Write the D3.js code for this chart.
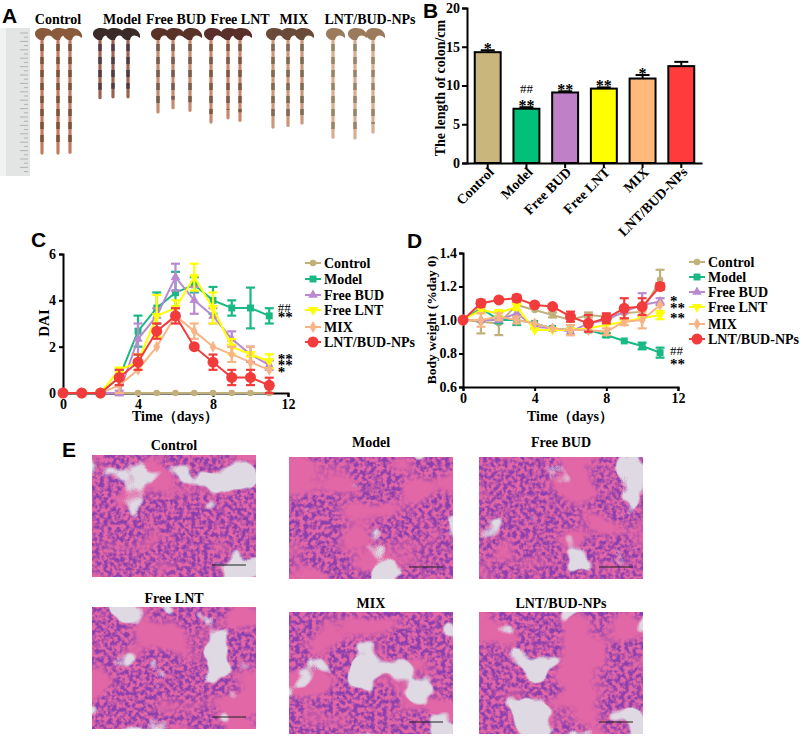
<!DOCTYPE html>
<html>
<head>
<meta charset="utf-8">
<script src="https://cdn.jsdelivr.net/npm/d3@7"></script>
<style>
  body { margin: 0; background: #fff; }
</style>
</head>
<body>
<div id="container"></div>
<script>

// ---- data ----
let groups = ["Control", "Model", "Free BUD", "Free LNT", "MIX", "LNT/BUD-NPs"];
let barColors = ["#c9b67c", "#00c07a", "#c080c8", "#ffff00", "#ffb97a", "#ff3b3b"];
let lineColors = ["#c2b07c", "#19b884", "#b98ad0", "#ffff00", "#f8b485", "#f23c3c"];

// B: colon length (cm)
let colonLength = [14.3, 7.0, 9.1, 9.6, 10.9, 12.5];
let colonSem = [0.25, 0.2, 0.15, 0.15, 0.45, 0.55];
let colonMarks = [["*"], ["**", "##"], ["**"], ["**"], ["*"], []];

// A: length of each colon in the photo (cm)
let photoLength = [[14.3, 14.3, 14.2], [7.7, 7.6, 7.6], [9.4, 8.9, 9.2],
                   [10.6, 10.1, 10.4], [11.2, 11.0, 10.7], [12.4, 12.5, 11.8]];

let days = [0, 1, 2, 3, 4, 5, 6, 7, 8, 9, 10, 11];

// C: DAI
let daiControl = [0, 0, 0, 0, 0, 0, 0, 0, 0, 0, 0, 0];
let daiModel   = [0, 0, 0, 0.67, 2.67, 3.67, 4.33, 4.67, 4.0, 3.67, 3.67, 3.33];
let daiBUD     = [0, 0, 0, 0, 2.33, 3.33, 5.0, 4.0, 3.33, 2.33, 1.67, 1.2];
let daiLNT     = [0, 0, 0, 1.0, 1.33, 3.33, 3.67, 5.0, 3.67, 2.0, 1.67, 1.37];
let daiMIX     = [0, 0, 0, 0.33, 1.0, 2.0, 3.33, 2.67, 2.0, 1.67, 1.33, 1.0];
let daiNPs     = [0, 0, 0, 0.67, 1.33, 2.67, 3.33, 2.0, 1.33, 0.67, 0.67, 0.33];

let daiSemControl = [0, 0, 0, 0, 0, 0, 0, 0, 0, 0, 0, 0];
let daiSemModel   = [0, 0, 0, 0.33, 0.67, 0.67, 0.9, 0.33, 0.58, 0.33, 0.88, 0.33];
let daiSemBUD     = [0, 0, 0, 0.1, 0.67, 0.33, 0.58, 0.58, 0.33, 0.33, 0.33, 0.2];
let daiSemLNT     = [0, 0, 0, 0.1, 0.33, 0.9, 0.33, 0.58, 0.67, 0.33, 0.1, 0.3];
let daiSemMIX     = [0, 0, 0, 0.33, 0, 0, 0, 0.33, 0, 0.33, 0.67, 0];
let daiSemNPs     = [0, 0, 0, 0.33, 0.33, 0.33, 0.33, 0, 0.33, 0.33, 0.33, 0.33];

// C: significance marks at day 11, [mark, DAI level of its baseline]
let daiMarksModel = [["##", 3.5], ["**", 3.06]];
let daiMarksTreat = [["**", 1.26], ["**", 0.98], ["*", 0.7]];

// D: body weight (fraction of day 0)
let bwControl = [1.0, 0.99, 0.98, 1.09, 1.06, 1.03, 1.0, 1.03, 1.02, 1.04, 1.05, 1.24];
let bwModel   = [1.0, 1.07, 1.0, 1.0, 0.98, 0.95, 0.94, 0.94, 0.91, 0.875, 0.845, 0.805];
let bwBUD     = [1.0, 1.0, 1.0, 1.04, 0.96, 0.95, 0.93, 0.98, 1.0, 1.05, 1.09, 1.11];
let bwLNT     = [1.0, 1.06, 1.04, 1.08, 0.94, 0.94, 0.94, 0.95, 0.97, 0.99, 1.01, 1.03];
let bwMIX     = [1.0, 1.0, 1.02, 1.0, 0.98, 0.95, 0.94, 0.94, 0.93, 0.99, 1.0, 1.09];
let bwNPs     = [1.0, 1.10, 1.12, 1.13, 1.09, 1.08, 1.02, 0.98, 1.01, 1.07, 1.08, 1.20];

let bwSemControl = [0, 0.07, 0.07, 0, 0, 0.015, 0, 0.015, 0.015, 0, 0, 0.06];
let bwSemModel   = [0, 0, 0.02, 0.03, 0, 0, 0, 0, 0.012, 0, 0.02, 0.03];
let bwSemBUD     = [0, 0, 0, 0.02, 0, 0, 0.02, 0, 0, 0, 0.07, 0.02];
let bwSemLNT     = [0, 0.02, 0.02, 0.02, 0, 0, 0, 0, 0, 0, 0, 0.025];
let bwSemMIX     = [0, 0.04, 0.02, 0.02, 0, 0, 0.03, 0, 0.02, 0.02, 0.05, 0];
let bwSemNPs     = [0, 0.02, 0, 0.02, 0, 0, 0.03, 0.05, 0.03, 0.06, 0.05, 0.02];

let bwMarksTreat = [["*", 1.085], ["**", 1.041], ["**", 0.985]];
let bwMarksModel = [["##", 0.791], ["**", 0.71]];

let daiTicks = [0, 2, 4, 6];
let bwTicks = [0.6, 0.8, 1.0, 1.2, 1.4];
let dayTicks = [0, 4, 8, 12];
let lengthTicks = [0, 5, 10, 15, 20];

// ---- layout ----
let w = 803;
let h = 737;
let serif = "'Liberation Serif', 'Times New Roman', serif";
let sans = "'Liberation Sans', Arial, sans-serif";

let viz = d3.select("#container")
  .append("svg")
    .attr("width", w)
    .attr("height", h)
    .style("display", "block");

viz.append("rect").attr("width", w).attr("height", h).attr("fill", "#fff");
let defs = viz.append("defs");

function panelLetter(t, x, y) {
  viz.append("text").text(t).attr("x", x).attr("y", y)
    .attr("font-family", sans).attr("font-weight", "bold").attr("font-size", 21);
}

function boldText(g, t, x, y, size) {
  return g.append("text").text(t).attr("x", x).attr("y", y)
    .attr("font-family", serif).attr("font-weight", "bold").attr("font-size", size || 14);
}

function styleAxis(ag) {
  ag.attr("font-family", serif).attr("font-size", 14).attr("font-weight", "bold");
  ag.select(".domain").attr("stroke-width", 2);
  ag.selectAll(".tick line").attr("stroke-width", 2);
  ag.selectAll(".tick text").attr("fill", "#000");
}

//------------------- A: colon photo -------------------
panelLetter("A", 2, 23);
let photo = viz.append("g");

let cmScale = d3.scaleLinear().domain([0, 1]).range([0, 8.4]);
let colonX = [[42, 58, 70], [100, 113, 128], [158, 173, 190], [211, 228, 240], [273, 288, 302], [333, 355, 373]];
let titleX = [58, 122, 176, 240, 294, 370];
let capColor = ["#8a5a3c", "#3a2a28", "#5a3328", "#5a2e2a", "#6a4a38", "#9c7a5c"];
let bodyColor = ["#c07a62", "#9a6250", "#c48a70", "#c8866c", "#c9977a", "#d6ad90"];
let stoolColor = ["#6a4a34", "#3e3440", "#6a5040", "#6a4e3a", "#6e6048", "#8a7a5c"];

// ruler
photo.append("rect").attr("x", 0).attr("y", 28).attr("width", 30).attr("height", 148).attr("fill", "#e3e5e4");
photo.append("rect").attr("x", 0).attr("y", 28).attr("width", 6).attr("height", 148).attr("fill", "#f1f2f2");
let rulerY = d3.scaleLinear().domain([0, 17]).range([33, 33 + cmScale(17)]);
photo.selectAll(".rtick").data(d3.range(0, 17, 0.5)).join("line")
  .attr("x1", d => d % 1 === 0 ? 20 : 24).attr("x2", 28)
  .attr("y1", d => rulerY(d)).attr("y2", d => rulerY(d))
  .attr("stroke", "#9a9d9c").attr("stroke-width", 0.7);

groups.forEach((gname, i) => {
  boldText(photo, gname, titleX[i], 24, 14).attr("text-anchor", "middle");
  photoLength[i].forEach((len, j) => {
    let x = colonX[i][j];
    let y0 = 38;
    let y1 = 33 + cmScale(len);
    photo.append("line").attr("x1", x).attr("x2", x).attr("y1", y0).attr("y2", y1)
      .attr("stroke", bodyColor[i]).attr("stroke-width", 3.2).attr("stroke-linecap", "round");
    photo.append("line").attr("x1", x).attr("x2", x).attr("y1", y0 + 6).attr("y2", y1 - 8)
      .attr("stroke", stoolColor[i]).attr("stroke-width", 3.6).attr("stroke-dasharray", "7,6").attr("opacity", 0.8);
    photo.append("path")
      .attr("d", `M${x - 2},${y0 + 2} C${x - 10},${y0 - 2} ${x - 8},${y0 - 10} ${x + 1},${y0 - 10} C${x + 9},${y0 - 10} ${x + 13},${y0 - 5} ${x + 12},${y0} C${x + 7},${y0 - 4} ${x + 3},${y0 - 3} ${x + 2},${y0 + 2} Z`)
      .attr("fill", capColor[i]);
  });
});

//------------------- B: colon length bars -------------------
panelLetter("B", 423, 18);
let gB = viz.append("g");
let yB = d3.scaleLinear().domain([0, 20]).range([163, 8]);
let xB = d3.scaleBand().domain(groups).range([467, 702]).paddingInner(0.33).paddingOuter(0.2);

gB.selectAll(".bar").data(groups).join("rect")
  .attr("x", d => xB(d)).attr("width", xB.bandwidth())
  .attr("y", (d, i) => yB(colonLength[i])).attr("height", (d, i) => yB(0) - yB(colonLength[i]))
  .attr("fill", (d, i) => barColors[i]).attr("stroke", "#000").attr("stroke-width", 2);

// error bars (upper only) and significance marks
groups.forEach((gname, i) => {
  let cx = xB(gname) + xB.bandwidth() / 2;
  let top = yB(colonLength[i] + colonSem[i]);
  gB.append("line").attr("x1", cx).attr("x2", cx).attr("y1", yB(colonLength[i])).attr("y2", top)
    .attr("stroke", "#000").attr("stroke-width", 2);
  gB.append("line").attr("x1", cx - 7).attr("x2", cx + 7).attr("y1", top).attr("y2", top)
    .attr("stroke", "#000").attr("stroke-width", 2);
  colonMarks[i].forEach(m => {
    if (m === "##") {
      boldText(gB, m, cx, top - 14, 13).attr("text-anchor", "middle").attr("font-weight", "normal");
    } else {
      boldText(gB, m, cx, top + 4, 16).attr("text-anchor", "middle");
    }
  });
});

let yAxisB = gB.append("g").attr("transform", "translate(467,0)")
  .call(d3.axisLeft(yB).tickValues(lengthTicks).tickFormat(d3.format("d")).tickSize(5).tickPadding(2));
styleAxis(yAxisB);
let xAxisB = gB.append("g").attr("transform", "translate(0,163)")
  .call(d3.axisBottom(xB).tickSize(5).tickSizeOuter(0));
styleAxis(xAxisB);
xAxisB.selectAll(".tick text")
  .attr("text-anchor", "end").attr("dy", 0).attr("y", 0)
  .attr("transform", "translate(7,10) rotate(-45)");

boldText(gB, "The length of colon/cm", 0, 0, 14)
  .attr("text-anchor", "middle").attr("transform", "translate(445,88) rotate(-90)");

//------------------- line chart helper -------------------
let symbols = [d3.symbolCircle, d3.symbolSquare, d3.symbolTriangle, d3.symbolTriangle, d3.symbolDiamond, d3.symbolCircle];
let symSize = [34, 48, 40, 44, 40, 95];

function markerTransform(i, x, y) {
  return `translate(${x},${y})` + (i === 3 ? " rotate(180)" : "");
}

function lineChart(g, x, y, series, sems) {
  series.forEach((vals, i) => {
    let pts = vals.map((v, k) => ({ d: days[k], v: v, e: sems[i][k] }));
    g.append("path").datum(pts)
      .attr("d", d3.line().x(p => x(p.d)).y(p => y(p.v)))
      .attr("fill", "none").attr("stroke", lineColors[i]).attr("stroke-width", 2);
    let eb = g.append("g").attr("stroke", lineColors[i]).attr("stroke-width", 2.2);
    pts.filter(p => p.e > 0).forEach(p => {
      eb.append("line").attr("x1", x(p.d)).attr("x2", x(p.d)).attr("y1", y(p.v - p.e)).attr("y2", y(p.v + p.e));
      [p.v - p.e, p.v + p.e].forEach(c => {
        eb.append("line").attr("x1", x(p.d) - 4.5).attr("x2", x(p.d) + 4.5).attr("y1", y(c)).attr("y2", y(c));
      });
    });
    g.append("g").selectAll("path").data(pts).join("path")
      .attr("transform", p => markerTransform(i, x(p.d), y(p.v)))
      .attr("d", d3.symbol(symbols[i], symSize[i]))
      .attr("fill", lineColors[i]);
  });
}

function legend(g, x0, rows) {
  groups.forEach((gname, i) => {
    let yy = rows[i];
    g.append("line").attr("x1", x0).attr("x2", x0 + 16).attr("y1", yy).attr("y2", yy)
      .attr("stroke", lineColors[i]).attr("stroke-width", 2);
    g.append("path").attr("transform", markerTransform(i, x0 + 8, yy))
      .attr("d", d3.symbol(symbols[i], symSize[i])).attr("fill", lineColors[i]);
    boldText(g, gname, x0 + 19, yy + 5, 14);
  });
}

// a stacked column of significance marks, as one text with one tspan per line
function marks(g, list, x, y) {
  let t = g.append("text").attr("x", x).attr("y", y(list[0][1]))
    .attr("font-family", serif).attr("font-size", 15);
  list.forEach((a, k) => {
    t.append("tspan").attr("x", x)
      .attr("dy", k === 0 ? 0 : y(a[1]) - y(list[k - 1][1]))
      .attr("font-size", a[0] === "##" ? 13 : 15)
      .attr("font-weight", a[0] === "##" ? "normal" : "bold")
      .text(a[0]);
  });
}

//------------------- C: DAI -------------------
panelLetter("C", 31, 247);
let gC = viz.append("g");
let xC = d3.scaleLinear().domain([0, 12]).range([63, 288]);
let yC = d3.scaleLinear().domain([0, 6]).range([393, 254]);

let yAxisC = gC.append("g").attr("transform", "translate(63,0)")
  .call(d3.axisLeft(yC).tickValues(daiTicks).tickFormat(d3.format("d")).tickSize(4).tickPadding(3));
styleAxis(yAxisC);
let xAxisC = gC.append("g").attr("transform", "translate(0,393)")
  .call(d3.axisBottom(xC).tickValues(dayTicks).tickFormat(d3.format("d")).tickSize(4).tickPadding(2));
styleAxis(xAxisC);

lineChart(gC, xC, yC, [daiControl, daiModel, daiBUD, daiLNT, daiMIX, daiNPs],
  [daiSemControl, daiSemModel, daiSemBUD, daiSemLNT, daiSemMIX, daiSemNPs]);

boldText(gC, "DAI", 0, 0, 15).attr("text-anchor", "middle").attr("transform", "translate(49,323) rotate(-90)");
boldText(gC, "Time（days）", 175, 421, 14).attr("text-anchor", "middle");

marks(gC, daiMarksModel, xC(11.45), yC);
marks(gC, daiMarksTreat, xC(11.45), yC);

legend(gC, 305, [263, 279, 295, 310, 327, 342]);

//------------------- D: body weight -------------------
panelLetter("D", 407, 248);
let gD = viz.append("g");
let xD = d3.scaleLinear().domain([0, 12]).range([463, 678]);
let yD = d3.scaleLinear().domain([0.6, 1.4]).range([387, 253]);

let yAxisD = gD.append("g").attr("transform", "translate(463,0)")
  .call(d3.axisLeft(yD).tickValues(bwTicks).tickFormat(d3.format(".1f")).tickSize(4).tickPadding(2));
styleAxis(yAxisD);
let xAxisD = gD.append("g").attr("transform", "translate(0,387)")
  .call(d3.axisBottom(xD).tickValues(dayTicks).tickFormat(d3.format("d")).tickSize(4).tickPadding(2));
styleAxis(xAxisD);

lineChart(gD, xD, yD, [bwControl, bwModel, bwBUD, bwLNT, bwMIX, bwNPs],
  [bwSemControl, bwSemModel, bwSemBUD, bwSemLNT, bwSemMIX, bwSemNPs]);

boldText(gD, "Body weight (%day 0)", 0, 0, 13.5).attr("text-anchor", "middle").attr("transform", "translate(436,320) rotate(-90)");
boldText(gD, "Time（days）", 570, 421, 14).attr("text-anchor", "middle");

marks(gD, bwMarksTreat, xD(11.55), yD);
marks(gD, bwMarksModel, xD(11.55), yD);

legend(gD, 689, [262, 277, 292, 307, 324, 339]);

//------------------- E: HE sections -------------------
panelLetter("E", 62, 457);
let gE = viz.append("g");
let slideX = [92, 289, 479];
let slideY = [[455, 457, 457], [607, 612, 612]];
let slideTitleY = [[450, 447, 447], [603, 608, 608]];
let slideW = 164;
let slideH = 122;

function tissueFilter(id, seed) {
  let f = defs.append("filter").attr("id", id)
    .attr("x", 0).attr("y", 0).attr("width", 1).attr("height", 1)
    .attr("color-interpolation-filters", "sRGB");
  f.append("feFlood").attr("flood-color", "#e267a6").attr("result", "pink");
  // low-frequency noise: low values stay pink (muscle), the rest is mucosa
  f.append("feTurbulence").attr("type", "fractalNoise").attr("baseFrequency", "0.018 0.026")
    .attr("numOctaves", 2).attr("seed", seed + 4).attr("result", "streak");
  // purple nuclei
  f.append("feTurbulence").attr("type", "fractalNoise").attr("baseFrequency", 0.24)
    .attr("numOctaves", 2).attr("seed", seed).attr("result", "cells");
  f.append("feColorMatrix").attr("in", "cells").attr("type", "matrix")
    .attr("values", "0 0 0 0 0.55  0 0 0 0 0.25  0 0 0 0 0.68  3.6 0 0 0 -1.35")
    .attr("result", "purple");
  f.append("feColorMatrix").attr("in", "streak").attr("type", "matrix")
    .attr("values", "0 0 0 0 0  0 0 0 0 0  0 0 0 0 0  7 0 0 0 -2.4")
    .attr("result", "mask");
  f.append("feComposite").attr("in", "purple").attr("in2", "mask").attr("operator", "in").attr("result", "purpleM");
  // pale lumen
  f.append("feTurbulence").attr("type", "fractalNoise").attr("baseFrequency", 0.02)
    .attr("numOctaves", 3).attr("seed", seed + 11).attr("result", "big");
  f.append("feColorMatrix").attr("in", "big").attr("type", "matrix")
    .attr("values", "0 0 0 0 0.87  0 0 0 0 0.85  0 0 0 0 0.89  20 0 0 0 -12.6")
    .attr("result", "lumen");
  let m = f.append("feMerge");
  m.append("feMergeNode").attr("in", "pink");
  m.append("feMergeNode").attr("in", "purpleM");
  m.append("feMergeNode").attr("in", "lumen");
}

groups.forEach((gname, i) => {
  let row = Math.floor(i / 3);
  let col = i % 3;
  let x = slideX[col];
  let y = slideY[row][col];
  tissueFilter("tissue" + i, 3 + i * 5);
  gE.append("rect").attr("x", x).attr("y", y).attr("width", slideW).attr("height", slideH)
    .attr("fill", "#e267a6").attr("filter", `url(#tissue${i})`);
  gE.append("line").attr("x1", x + slideW - 44).attr("x2", x + slideW - 10)
    .attr("y1", y + slideH - 12).attr("y2", y + slideH - 12)
    .attr("stroke", "#222").attr("stroke-width", 1.2);
  boldText(gE, gname, x + slideW / 2, slideTitleY[row][col], 14).attr("text-anchor", "middle");
});

</script>
</body>
</html>
